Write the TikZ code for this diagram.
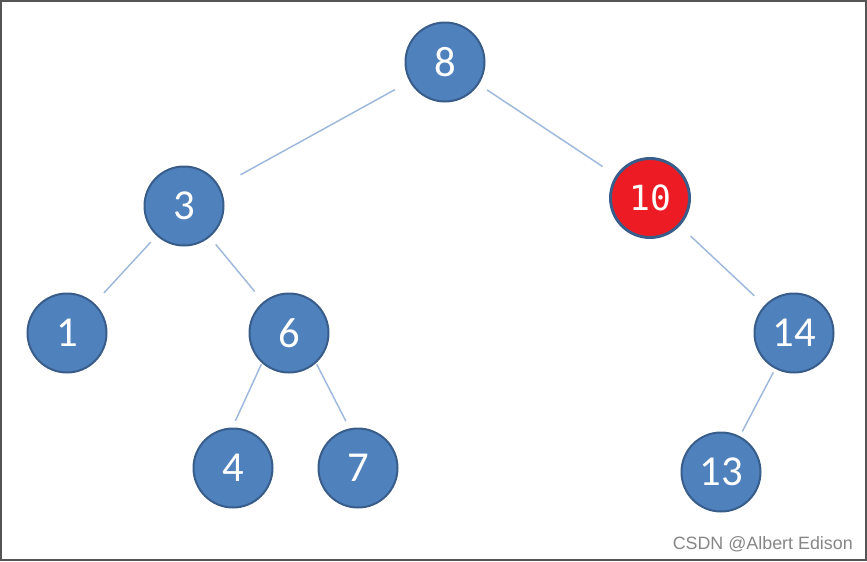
\documentclass[tikz,border=0pt]{standalone}
\usepackage{fontspec}
\setmainfont{Carlito}
\newfontfamily\monofnt{DejaVu Sans Mono}
\newfontfamily\wmfont{Liberation Sans}
\definecolor{nodeblue}{HTML}{4F81BD}
\definecolor{nodeedge}{HTML}{385D8A}
\definecolor{nodered}{HTML}{ED1C24}
\definecolor{linkblue}{HTML}{9DB8DC}
\definecolor{framegray}{HTML}{555555}
\begin{document}
\begin{tikzpicture}[x=0.75pt,y=-0.75pt,
  tnode/.style={circle,minimum size=79*0.75pt,inner sep=0pt,fill=nodeblue,draw=nodeedge,line width=1.5pt,text=white,font=\fontsize{32}{32}\selectfont},
  rnode/.style={tnode,fill=nodered,draw=nodeedge,line width=2.2pt,font=\monofnt\fontsize{26}{26}\selectfont},
  link/.style={draw=linkblue,line width=1.1pt}]
\useasboundingbox (0,0) rectangle (867,561);
\draw[framegray,line width=1.5pt] (1,1) rectangle (866,560);
\node[tnode] (n8) at (445,62) {8};
\node[tnode] (n3) at (184,206) {3};
\node[rnode] (n10) at (650,198) {10};
\node[tnode] (n1) at (67,333) {1};
\node[tnode] (n6) at (289,333) {6};
\node[tnode] (n14) at (794,333) {14};
\node[tnode] (n4) at (233,468) {4};
\node[tnode] (n7) at (358,468) {7};
\node[tnode] (n13) at (721,472) {13};
\draw[link,shorten <=12.5pt,shorten >=18pt] (n8) -- (n3);
\draw[link,shorten <=7.5pt,shorten >=12pt] (n8) -- (n10);
\draw[link,shorten <=6.5pt,shorten >=10.5pt] (n3) -- (n1);
\draw[link,shorten <=7pt,shorten >=10pt] (n3) -- (n6);
\draw[link,shorten <=11pt,shorten >=10.5pt] (n10) -- (n14);
\draw[link,shorten <=1pt,shorten >=5.5pt] (n6.228) -- (n4.91);
\draw[link,shorten <=1pt,shorten >=6pt] (n6.312) -- (n7.102);
\draw[link,shorten <=3pt,shorten >=4pt] (n14) -- (n13);
\node[anchor=east,text=gray!95,font=\wmfont\fontsize{13.4}{13.4}\selectfont,inner sep=0pt] (wm) at (853,544) {CSDN @Albert Edison};
\end{tikzpicture}
\end{document}
